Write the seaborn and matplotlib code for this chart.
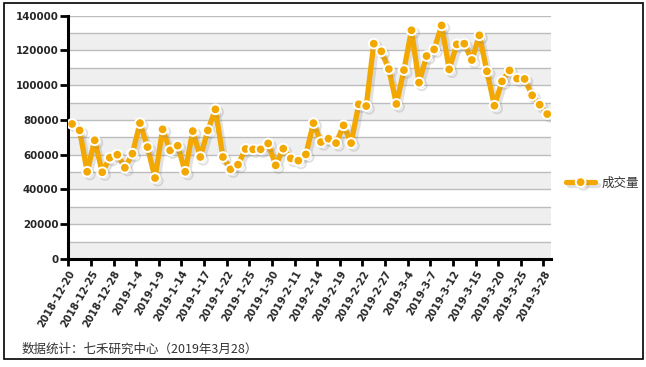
import matplotlib
matplotlib.use("Agg")
import matplotlib.pyplot as plt
import matplotlib.patheffects as pe
from matplotlib.patches import Rectangle
import seaborn as sns
import pandas as pd

# trading days, 2018-12-20 .. 2019-3-28
dates = ["2018-12-20", "2018-12-21", "2018-12-24", "2018-12-25", "2018-12-26", "2018-12-27",
         "2018-12-28", "2019-1-2", "2019-1-3", "2019-1-4", "2019-1-7", "2019-1-8", "2019-1-9",
         "2019-1-10", "2019-1-11", "2019-1-14", "2019-1-15", "2019-1-16", "2019-1-17", "2019-1-18",
         "2019-1-21", "2019-1-22", "2019-1-23", "2019-1-24", "2019-1-25", "2019-1-28", "2019-1-29",
         "2019-1-30", "2019-1-31", "2019-2-1", "2019-2-11", "2019-2-12", "2019-2-13", "2019-2-14",
         "2019-2-15", "2019-2-18", "2019-2-19", "2019-2-20", "2019-2-21", "2019-2-22", "2019-2-25",
         "2019-2-26", "2019-2-27", "2019-2-28", "2019-3-1", "2019-3-4", "2019-3-5", "2019-3-6",
         "2019-3-7", "2019-3-8", "2019-3-11", "2019-3-12", "2019-3-13", "2019-3-14", "2019-3-15",
         "2019-3-18", "2019-3-19", "2019-3-20", "2019-3-21", "2019-3-22", "2019-3-25", "2019-3-26",
         "2019-3-27", "2019-3-28"]

volume = [77700, 74000, 50200, 68300, 49900, 58300, 60000, 52500, 60600, 78200,
          64400, 46600, 74600, 62500, 65200, 50200, 73600, 58700, 74000, 86100,
          58700, 51600, 54300, 63300, 63100, 63100, 66500, 53900, 63500, 57900,
          56600, 60200, 78200, 67300, 69200, 66700, 76900, 66700, 89000, 88000,
          123900, 119500, 109300, 89200, 108700, 131600, 101500, 116800, 120600, 134400,
          109100, 123500, 123900, 114500, 128700, 108000, 88200, 102200, 108500, 103800,
          103600, 94200, 88800, 83400]

series_name = "成交量"
footer = "数据统计：七禾研究中心（2019年3月28）"

df = pd.DataFrame({"idx": range(len(dates)), "date": dates, "vol": volume})

sns.set_theme(style="white")
plt.rcParams["font.family"] = ["DejaVu Sans", "Noto Sans CJK SC"]

fig = plt.figure(figsize=(6.46, 3.67), dpi=100)
ax = fig.add_axes([68.3 / 646, 1 - 259 / 367, (551 - 68.3) / 646, (259 - 15.7) / 367])

# alternating bands
for lo in range(0, 140000, 20000):
    ax.axhspan(lo, lo + 10000, color="#efefef", zorder=0, lw=0)

orange = "#f2a800"
sns.lineplot(data=df, x="idx", y="vol", ax=ax, color=orange, lw=3.8,
             marker="o", markersize=7, markerfacecolor=orange, markeredgecolor="white",
             markeredgewidth=1.4, label=series_name, zorder=3,
             path_effects=[pe.SimpleLineShadow(offset=(2, -2), shadow_color="#888888", alpha=0.25),
                           pe.Normal()])

ax.set_xlim(-0.5, len(dates) - 0.5)
ax.set_ylim(0, 140000)
ax.set_yticks(range(0, 140001, 20000))
ax.set_yticks(range(0, 140001, 10000), minor=True)
ax.grid(axis="y", which="both", color="#bdbdbd", lw=1, zorder=1)
ax.set_axisbelow(True)
ax.tick_params(axis="y", which="minor", length=0)

tick_pos = [i - 0.5 for i in range(0, len(dates), 3)]
ax.set_xticks(tick_pos)
ax.set_xticklabels(dates[::3], rotation=60, ha="right", rotation_mode="anchor",
                   fontsize=7.2, fontweight="bold")
for lab in ax.get_yticklabels():
    lab.set_fontsize(7.4)
    lab.set_fontweight("bold")

ax.tick_params(axis="y", which="major", direction="out", length=6, width=2, color="black",
               left=True, pad=1)
ax.tick_params(axis="x", which="major", direction="out", length=5, width=2, color="black",
               bottom=True, pad=2)
for side in ["top", "right"]:
    ax.spines[side].set_visible(False)
for side in ["left", "bottom"]:
    ax.spines[side].set_color("black")
    ax.spines[side].set_linewidth(2.2)
ax.set_xlabel("")
ax.set_ylabel("")

leg = ax.legend(loc="center left", bbox_to_anchor=(560 / 646, 1 - 183 / 367),
                bbox_transform=fig.transFigure, frameon=False, handlelength=2.3,
                borderpad=0, handletextpad=0.5,
                prop={"family": ["Noto Sans CJK SC", "DejaVu Sans"], "size": 9})
for t in leg.get_texts():
    t.set_color("#333333")

fig.text(22 / 646, 1 - 349 / 367, footer, fontsize=9, color="#333333", va="center",
         family=["Noto Sans CJK SC", "DejaVu Sans"])

fig.patches.append(Rectangle((4 / 646, 8 / 367), 639 / 646, 356 / 367, transform=fig.transFigure,
                             fill=False, edgecolor="black", lw=1.2))

fig.savefig("out.png", dpi=100)
